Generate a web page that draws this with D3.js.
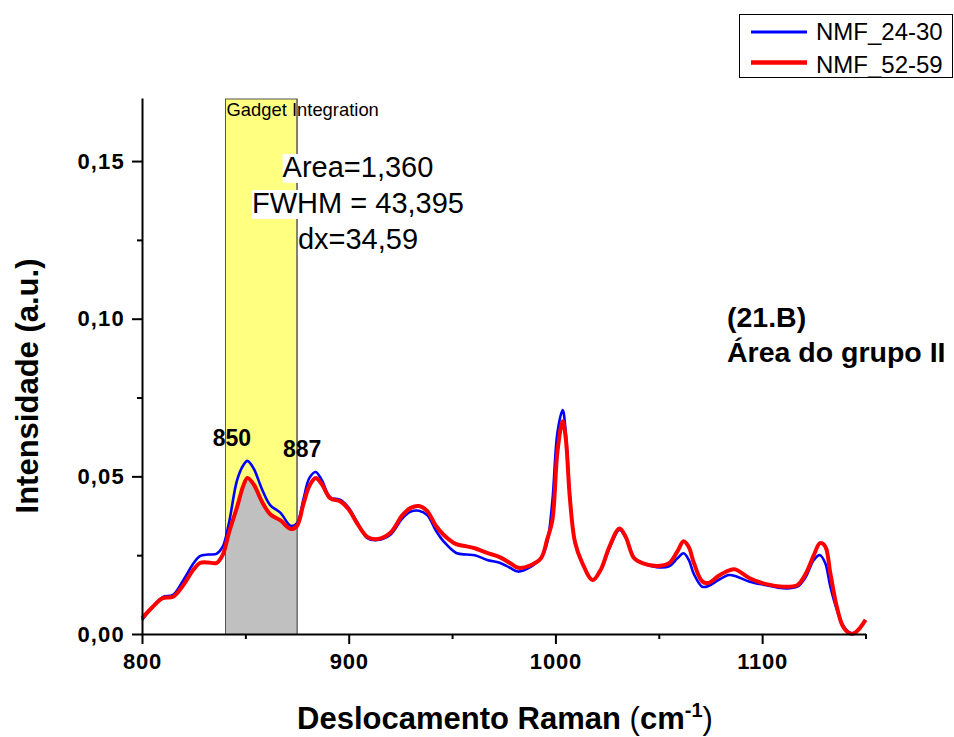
<!DOCTYPE html>
<html>

<head>
    <meta charset="utf-8">
    <style type="text/css">
        body {
            margin: 0;
            background-color: white;
        }

        text {
            font-family: Arial, "Liberation Sans", sans-serif;
        }

        .tick-label {
            font-size: 22px;
            font-weight: bold;
        }

        .axis-title {
            font-size: 31px;
            font-weight: bold;
        }
    </style>
</head>

<body>
    <svg width="954" height="737"></svg>
    <script src="https://d3js.org/d3.v7.min.js"></script>
    <script>

        // Raman shift (cm-1)
        var shift = [800, 805, 810, 815, 820, 825, 828, 832, 836, 839, 842, 846, 849, 851, 854, 858, 862, 867, 872, 875,
            878, 881, 884, 887, 891, 896, 900, 904, 909, 914, 920, 926, 930, 934, 938, 942, 946, 952, 957, 961,
            967, 973, 978, 982, 988, 993, 996, 998.5, 1001, 1003.5, 1005, 1007, 1009.5, 1013, 1018, 1022, 1026, 1031, 1034, 1038,
            1042, 1049, 1055, 1059, 1062, 1064.5, 1067, 1071, 1074, 1079, 1084, 1087, 1094, 1102, 1110, 1117, 1121, 1125, 1128, 1130.5,
            1133, 1136, 1139, 1142, 1144, 1146.5, 1150];

        var nmf2430 = [0.0044, 0.0085, 0.0117, 0.0124, 0.0171, 0.0225, 0.0247, 0.0252, 0.0254, 0.0276, 0.0350, 0.0488, 0.0535, 0.0549, 0.0525, 0.0460, 0.0409, 0.0384, 0.0343, 0.0352,
            0.0425, 0.0495, 0.0514, 0.0488, 0.0434, 0.0425, 0.0400, 0.0356, 0.0304, 0.0298, 0.0314, 0.0367, 0.0388, 0.0391, 0.0377, 0.0330, 0.0293, 0.0257, 0.0252, 0.0250,
            0.0235, 0.0226, 0.0210, 0.0198, 0.0213, 0.0240, 0.0290, 0.0420, 0.0640, 0.0710, 0.0640, 0.0440, 0.0290, 0.0225, 0.0171, 0.0203, 0.0270, 0.0330, 0.0305, 0.0241,
            0.0225, 0.0212, 0.0215, 0.0240, 0.0256, 0.0235, 0.0190, 0.0150, 0.0152, 0.0172, 0.0187, 0.0184, 0.0166, 0.0155, 0.0145, 0.0150, 0.0180, 0.0235, 0.0250, 0.0225,
            0.0150, 0.0080, 0.0030, 0.0006, 0.0002, 0.0012, 0.0045];

        var nmf5259 = [0.0050, 0.0085, 0.0114, 0.0118, 0.0155, 0.0205, 0.0225, 0.0227, 0.0225, 0.0250, 0.0320, 0.0403, 0.0470, 0.0495, 0.0475, 0.0420, 0.0380, 0.0360, 0.0333, 0.0343,
            0.0410, 0.0470, 0.0495, 0.0475, 0.0431, 0.0420, 0.0395, 0.0352, 0.0308, 0.0301, 0.0320, 0.0377, 0.0400, 0.0406, 0.0390, 0.0345, 0.0314, 0.0285, 0.0278, 0.0272,
            0.0257, 0.0244, 0.0225, 0.0210, 0.0218, 0.0240, 0.0300, 0.0360, 0.0580, 0.0675, 0.0620, 0.0430, 0.0290, 0.0225, 0.0171, 0.0205, 0.0275, 0.0335, 0.0308, 0.0241,
            0.0225, 0.0216, 0.0225, 0.0262, 0.0294, 0.0276, 0.0225, 0.0167, 0.0162, 0.0185, 0.0202, 0.0205, 0.0177, 0.0158, 0.0150, 0.0155, 0.0190, 0.0250, 0.0288, 0.0278,
            0.0192, 0.0090, 0.0025, 0.0003, 0.0001, 0.0013, 0.0045];

        var seriesNames = ["NMF_24-30", "NMF_52-59"];
        var seriesColors = ["#0000ff", "#ff0000"];
        var xMajorTicks = [800, 900, 1000, 1100];
        var xMinorTicks = [850, 950, 1050, 1150];
        var yMajorTicks = [0, 0.05, 0.10, 0.15];
        var yMinorTicks = [0.025, 0.075, 0.125];

        // integration window + result
        var intRange = [840.4, 875];
        var intLines = ["Area=1,360", "FWHM = 43,395", "dx=34,59"];
        var peakLabels = [{ text: "850", x: 843.5, y: 0.0596 }, { text: "887", x: 877.5, y: 0.0561 }];

        var svg = d3.select("svg");

        var x = d3.scaleLinear().domain([800, 1150]).range([142, 865.5]);
        var y = d3.scaleLinear().domain([0, 0.17]).range([634, 98]);

        var fmt = function (d) { return d3.format(".2f")(d).replace(".", ","); };

        var data = shift.map(function (s, i) {
            return { shift: s, a: nmf2430[i], b: nmf5259[i] };
        });

        var curve = d3.curveCatmullRom.alpha(0.5);

        // yellow integration gadget
        svg.append("rect")
            .attr("x", x(intRange[0]))
            .attr("y", y(0.17) + 1)
            .attr("width", x(intRange[1]) - x(intRange[0]))
            .attr("height", y(0) - y(0.17) - 1)
            .attr("fill", "#ffff80")
            .attr("stroke", "#555")
            .attr("stroke-width", 1);

        svg.append("clipPath").attr("id", "intClip")
            .append("rect")
            .attr("x", x(intRange[0]))
            .attr("y", y(0.17))
            .attr("width", x(intRange[1]) - x(intRange[0]))
            .attr("height", y(0) - y(0.17));

        var area = d3.area().curve(curve)
            .x(function (d) { return x(d.shift); })
            .y0(y(0))
            .y1(function (d) { return y(d.b); });

        svg.append("path").datum(data)
            .attr("clip-path", "url(#intClip)")
            .attr("fill", "#c0c0c0")
            .attr("d", area);

        // grey edges of the integrated area
        intRange.forEach(function (v) {
            svg.append("line")
                .attr("x1", x(v)).attr("x2", x(v))
                .attr("y1", y(0.17) + 1).attr("y2", y(0))
                .attr("stroke", "#555").attr("stroke-width", 1);
        });

        svg.append("text")
            .attr("x", x(intRange[0]) + 1)
            .attr("y", 116)
            .style("font-size", "18.4px")
            .text("Gadget Integration");

        intLines.forEach(function (t, i) {
            var tx = svg.append("text")
                .attr("x", 358)
                .attr("y", 177 + i * 36)
                .attr("text-anchor", "middle")
                .style("font-size", "29px")
                .text(t);
            var bb = tx.node().getBBox();
            svg.insert("rect", function () { return tx.node(); })
                .attr("x", bb.x).attr("y", bb.y + 3)
                .attr("width", bb.width).attr("height", bb.height - 3)
                .attr("fill", "white");
        });

        // spectra
        var lineA = d3.line().curve(curve)
            .x(function (d) { return x(d.shift); })
            .y(function (d) { return y(d.a); });
        var lineB = d3.line().curve(curve)
            .x(function (d) { return x(d.shift); })
            .y(function (d) { return y(d.b); });

        svg.append("path").datum(data)
            .attr("fill", "none").attr("stroke", seriesColors[0]).attr("stroke-width", 2.6)
            .attr("stroke-linejoin", "round")
            .attr("d", lineA);
        svg.append("path").datum(data)
            .attr("fill", "none").attr("stroke", seriesColors[1]).attr("stroke-width", 4)
            .attr("stroke-linejoin", "round")
            .attr("d", lineB);

        // axes
        var xAxis = svg.append("g").attr("transform", "translate(0," + y(0) + ")")
            .call(d3.axisBottom(x).tickValues(xMajorTicks).tickSize(10).tickSizeOuter(0).tickPadding(9).tickFormat(d3.format("d")));
        xAxis.selectAll(".tick text").style("letter-spacing", "0.8px");
        svg.append("g").attr("transform", "translate(0," + y(0) + ")")
            .call(d3.axisBottom(x).tickValues(xMinorTicks).tickSize(5).tickSizeOuter(0).tickFormat(""))
            .select(".domain").remove();

        var yAxis = svg.append("g").attr("transform", "translate(" + x(800) + ",0)")
            .call(d3.axisLeft(y).tickValues(yMajorTicks).tickSize(10).tickSizeOuter(0).tickPadding(7).tickFormat(fmt));
        yAxis.selectAll(".tick text").style("letter-spacing", "1.2px");
        svg.append("g").attr("transform", "translate(" + x(800) + ",0)")
            .call(d3.axisLeft(y).tickValues(yMinorTicks).tickSize(5).tickSizeOuter(0).tickFormat(""))
            .select(".domain").remove();

        svg.selectAll(".domain").attr("stroke-width", 2);
        svg.selectAll(".tick line").attr("stroke-width", 2);
        svg.selectAll(".tick text").attr("class", "tick-label").attr("fill", "#000")
            .style("font-family", "Arial, 'Liberation Sans', sans-serif");

        // axis titles
        var xt = svg.append("text").attr("class", "axis-title")
            .attr("x", 505).attr("y", 729).attr("text-anchor", "middle");
        xt.append("tspan").text("Deslocamento Raman ");
        xt.append("tspan").style("font-weight", "normal").text("(");
        xt.append("tspan").text("cm");
        xt.append("tspan").attr("dy", -12).style("font-size", "20px").text("-1");
        xt.append("tspan").attr("dy", 12).style("font-weight", "normal").text(")");

        svg.append("text").attr("class", "axis-title")
            .attr("transform", "translate(38,386) rotate(-90)")
            .attr("text-anchor", "middle")
            .text("Intensidade (a.u.)");

        // peak labels
        peakLabels.forEach(function (p) {
            svg.append("text")
                .attr("x", x(p.x)).attr("y", y(p.y))
                .attr("text-anchor", "middle")
                .style("font-size", "23px").style("font-weight", "bold")
                .text(p.text);
        });

        svg.append("text").attr("x", 727).attr("y", 327)
            .style("font-size", "28.5px").style("font-weight", "bold").text("(21.B)");
        svg.append("text").attr("x", 727).attr("y", 362)
            .style("font-size", "28.5px").style("font-weight", "bold").text("Área do grupo II");

        // legend
        var legend = svg.append("g");
        legend.append("rect").attr("x", 739.5).attr("y", 14.5).attr("width", 213).attr("height", 63)
            .attr("fill", "white").attr("stroke", "#000").attr("stroke-width", 1);
        seriesNames.forEach(function (name, i) {
            legend.append("line")
                .attr("x1", 751).attr("x2", 807)
                .attr("y1", 32 + i * 30.5).attr("y2", 32 + i * 30.5)
                .attr("stroke", seriesColors[i]).attr("stroke-width", i == 0 ? 3 : 4.5);
            legend.append("text")
                .attr("x", 816).attr("y", 39.5 + i * 33)
                .style("font-size", "24px")
                .text(name);
        });
    </script>
</body>

</html>
